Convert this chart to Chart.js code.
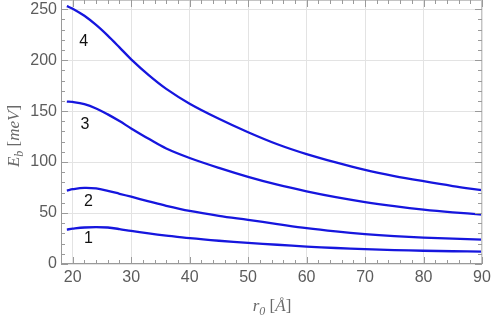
<!DOCTYPE html>
<html><head><meta charset="utf-8">
<script src="https://cdn.jsdelivr.net/npm/chart.js@4.4.0/dist/chart.umd.min.js"></script>
<style>html,body{margin:0;padding:0;background:#fff}#wrap{width:491px;height:316px}</style>
</head><body><div id="wrap"><canvas id="c" width="491" height="316"></canvas></div>
<script>
// r0 values (Å)
const radii = [19,20,22,24,26,28,30,33,36,40,45,50,55,60,65,70,75,80,85,90];
// binding energies (meV) for the four curves
const eb1 = [33.8,34.6,35.8,36.2,35.8,34.3,32.4,30.0,27.9,25.3,22.8,20.8,18.9,17.1,15.7,14.5,13.6,13.0,12.5,12.1];
const eb2 = [72.1,73.4,74.7,74.1,71.8,68.9,66.0,61.5,57.1,52.1,47.3,43.3,39.2,35.2,32.0,29.4,27.4,25.9,24.8,24.0];
const eb3 = [159.4,159.0,156.8,152.6,146.8,140.2,133.0,122.8,113.3,104.0,94.3,85.5,77.8,71.3,65.6,60.8,56.8,53.4,50.7,48.5];
const eb4 = [253.0,250.5,243.5,234.5,224.0,212.5,200.8,185.3,171.8,157.3,142.5,129.3,117.5,107.8,99.6,92.3,86.3,81.2,76.5,72.4];
const xTicks = [20,30,40,50,60,70,80,90];
const yTicks = [0,50,100,150,200,250];
const curveNames = ['1','2','3','4'];
const nameX = [22.7,22.7,22.1,21.9];
const nameY = [26.4,62.8,138.3,220.0];

const series = [eb1, eb2, eb3, eb4];
const BLUE = 'rgb(22,22,222)';

const decor = {
  id: 'decor',
  afterDraw(chart) {
    const {ctx, chartArea: a, scales: {x, y}} = chart;
    ctx.save();
    // frame
    ctx.lineWidth = 1;
    ctx.strokeStyle = '#c4c4c4';
    ctx.beginPath();
    ctx.moveTo(a.left, a.top + 0.5); ctx.lineTo(a.right, a.top + 0.5);
    ctx.moveTo(a.right - 0.5, a.top); ctx.lineTo(a.right - 0.5, a.bottom);
    ctx.stroke();
    ctx.strokeStyle = '#9a9a9a';
    ctx.beginPath();
    ctx.moveTo(a.left + 0.5, a.top); ctx.lineTo(a.left + 0.5, a.bottom);
    ctx.moveTo(a.left, a.bottom - 0.5); ctx.lineTo(a.right, a.bottom - 0.5);
    ctx.stroke();
    // ticks
    ctx.strokeStyle = '#9a9a9a';
    ctx.beginPath();
    for (let v = xTicks[0]; v <= xTicks[xTicks.length - 1] + 1e-9; v += 2) {
      const px = Math.round(x.getPixelForValue(v)) + 0.5;
      const len = (v % 10 === 0) ? 7 : 4;
      ctx.moveTo(px, a.bottom); ctx.lineTo(px, a.bottom - len);
      ctx.moveTo(px, a.top); ctx.lineTo(px, a.top + len);
    }
    for (let v = 0; v <= 260; v += 10) {
      const py = Math.round(y.getPixelForValue(v)) + 0.5;
      const len = (v % 50 === 0) ? 7 : 4;
      ctx.moveTo(a.left, py); ctx.lineTo(a.left + len, py);
      ctx.moveTo(a.right, py); ctx.lineTo(a.right - len, py);
    }
    ctx.stroke();
    // curve labels
    ctx.fillStyle = '#111';
    ctx.font = '16px "Liberation Sans", Arial, sans-serif';
    ctx.textAlign = 'center';
    ctx.textBaseline = 'alphabetic';
    for (let i = 0; i < curveNames.length; i++) {
      ctx.fillText(curveNames[i], x.getPixelForValue(nameX[i]), y.getPixelForValue(nameY[i]) + 5.8);
    }
    // axis titles
    ctx.fillStyle = '#6a6a6a';
    ctx.textAlign = 'left';
    const it = 'italic 17px "Liberation Serif", "Times New Roman", serif';
    const up = '17px "Liberation Serif", "Times New Roman", serif';
    const sub = 'italic 12px "Liberation Serif", "Times New Roman", serif';
    function drawPieces(pieces, cx, cy, rot) {
      let w = 0;
      for (const p of pieces) { ctx.font = p[1]; w += ctx.measureText(p[0]).width; }
      ctx.save();
      ctx.translate(cx, cy);
      if (rot) ctx.rotate(-Math.PI / 2);
      let xx = -w / 2;
      for (const p of pieces) {
        ctx.font = p[1];
        ctx.fillText(p[0], xx, p[2]);
        xx += ctx.measureText(p[0]).width;
      }
      ctx.restore();
    }
    drawPieces([['r', it, 0], ['0', sub, 4], [' [', up, 0], ['Å', it, 0], [']', up, 0]], 272, 311, false);
    drawPieces([['E', it, 0], ['b', sub, 4], [' [', up, 0], ['meV', it, 0], [']', up, 0]], 19, 136, true);
    ctx.restore();
  }
};

new Chart(document.getElementById('c'), {
  type: 'line',
  data: {
    datasets: series.map(s => ({
      data: radii.map((r, i) => ({x: r, y: s[i]})),
      borderColor: BLUE,
      borderWidth: 2.3,
      pointRadius: 0,
      fill: false,
      tension: 0.35
    }))
  },
  options: {
    responsive: false,
    animation: false,
    devicePixelRatio: 1,
    layout: {padding: {top: 0, right: 9, left: 0, bottom: 0}},
    plugins: {legend: {display: false}, tooltip: {enabled: false}},
    scales: {
      x: {
        type: 'linear', min: 18, max: 90,
        afterBuildTicks: s => { s.ticks = xTicks.map(v => ({value: v})); },
        afterFit: s => { s.height = 52; s.paddingLeft = 0; s.paddingRight = 0; },
        grid: {color: '#e3e3e3', drawTicks: false},
        border: {display: false},
        ticks: {color: '#5c5c5c', padding: 4, font: {size: 16, family: '"Liberation Sans", Arial, sans-serif'}}
      },
      y: {
        type: 'linear', min: 0, max: 259,
        afterBuildTicks: s => { s.ticks = yTicks.map(v => ({value: v})); },
        afterFit: s => { s.width = 61; s.paddingTop = 0; s.paddingBottom = 0; },
        grid: {color: '#e3e3e3', drawTicks: false},
        border: {display: false},
        ticks: {color: '#5c5c5c', padding: 4, font: {size: 16, family: '"Liberation Sans", Arial, sans-serif'}}
      }
    }
  },
  plugins: [decor]
});
</script>
</body></html>
